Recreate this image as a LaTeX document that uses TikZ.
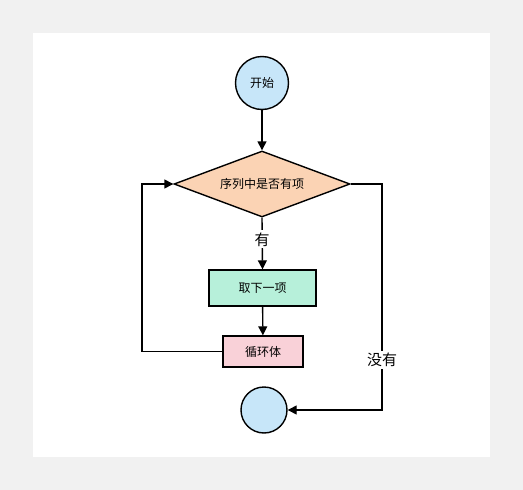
\documentclass[tikz,border=0pt]{standalone}
\usepackage{fontspec}
\newfontfamily\cjk{Noto Sans CJK SC}
\usetikzlibrary{shapes.geometric,arrows.meta}
\definecolor{bgc}{HTML}{F1F1F1}
\definecolor{cblue}{HTML}{C7E6F9}
\definecolor{cpeach}{HTML}{FBD3B4}
\definecolor{cmint}{HTML}{B7F0DA}
\definecolor{cpink}{HTML}{F9D1D8}
\tikzset{
  base/.style={draw=black, line width=1.4pt, font=\cjk\fontsize{12}{14}\selectfont, inner sep=0pt},
  term/.style={base, circle, fill=cblue},
  decision/.style={base, diamond, fill=cpeach, minimum width=176pt, minimum height=66pt, aspect=2.67},
  procbox/.style={base, rectangle, fill=cmint, minimum width=107pt, minimum height=36pt},
  bodybox/.style={base, rectangle, fill=cpink, minimum width=80pt, minimum height=31pt},
  conn/.style={draw=black, line width=1.4pt},
  arr/.style={conn, -{Triangle[length=9pt,width=9pt]}},
  lbl/.style={fill=white, font=\cjk\fontsize{15}{17}\selectfont, inner sep=2pt}
}
\begin{document}
\begin{tikzpicture}[x=1pt,y=-1pt]
\fill[bgc] (0,0) rectangle (523,490);
\fill[white] (33,33) rectangle (490,457);
\useasboundingbox (0,0) rectangle (523,490);
\node[term, minimum size=53pt] (start) at (262,83) {开始};
\node[decision] (dec) at (262,184) {序列中是否有项};
\node[procbox] (take) at (262.5,288) {取下一项};
\node[bodybox] (body) at (263,351.5) {循环体};
\node[term, minimum size=46pt] (end) at (264,410) {};
\coordinate (lt) at (142,351.5);
\coordinate (lb) at (142,184);
\coordinate (rt) at (382,184);
\coordinate (rb) at (382,410);
\draw[arr] (start) -- (dec);
\draw[arr] (dec.south) -- node[lbl, pos=0.42] {有} (take.north);
\draw[arr] (take) -- (body);
\draw[arr] (body.west) -- (lt) -- (lb) -- (dec.west);
\draw[arr] (dec.east) -- (rt) -- node[lbl, pos=0.78] {没有} (rb) -- (end.east);
\end{tikzpicture}
\end{document}
